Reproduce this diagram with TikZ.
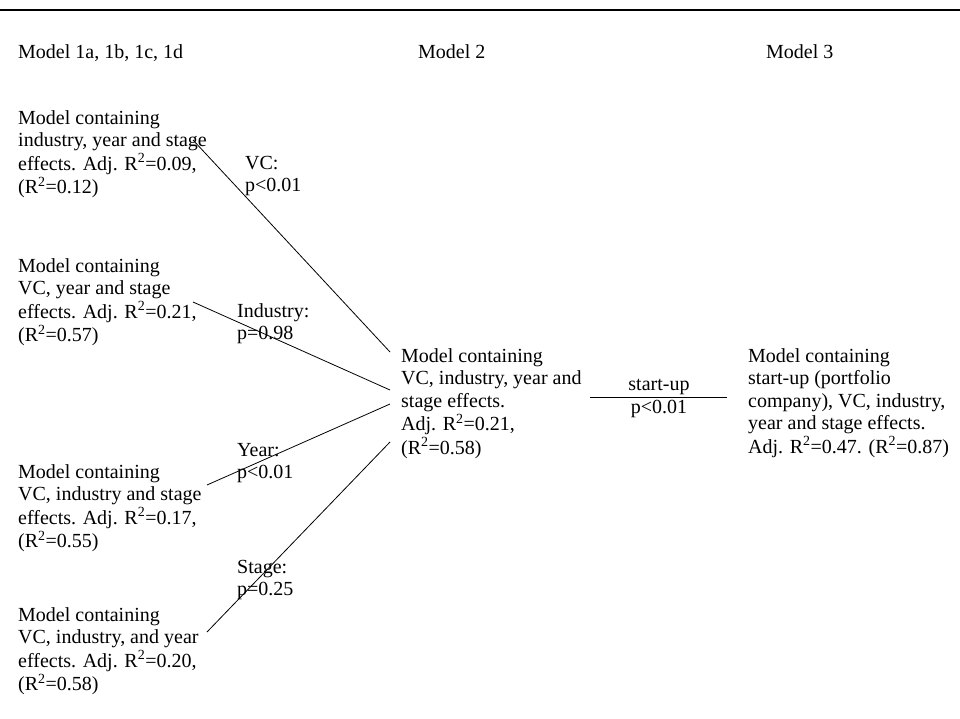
\documentclass[tikz,border=0pt]{standalone}
\usepackage{fontspec}
\setmainfont{Liberation Serif}
\newcommand{\blk}[1]{\begin{tabular}[t]{@{}l@{}}#1\end{tabular}}
\newcommand{\Rsq}{R\textsuperscript{2}}
\begin{document}
\begin{tikzpicture}[x=1pt,y=-1pt,
  txt/.style={anchor=base west,inner sep=0pt,font=\fontsize{20}{22.5}\selectfont},
  ctxt/.style={anchor=base,inner sep=0pt,font=\fontsize{20}{22.5}\selectfont},
  conn/.style={line width=0.8pt,black},
  rule/.style={line width=1.2pt,black}]
\useasboundingbox (0,0) rectangle (960,718);
% top rule
\coordinate (rl) at (0,10);
\coordinate (rr) at (960,10);
\draw[rule] (rl) -- (rr);
% headers
\node[txt] (h1) at (18,58) {Model 1a, 1b, 1c, 1d};
\node[txt] (h2) at (418,58) {Model 2};
\node[txt] (h3) at (766,58) {Model 3};
% left blocks
\node[txt] (m1a) at (18,124) {\blk{Model containing\\ industry, year and stage\\ effects. Adj. \Rsq=0.09,\\ (\Rsq=0.12)}};
\node[txt] (m1b) at (18,272) {\blk{Model containing\\ VC, year and stage\\ effects. Adj. \Rsq=0.21,\\ (\Rsq=0.57)}};
\node[txt] (m1c) at (18,478) {\blk{Model containing\\ VC, industry and stage\\ effects. Adj. \Rsq=0.17,\\ (\Rsq=0.55)}};
\node[txt] (m1d) at (18,621) {\blk{Model containing\\ VC, industry, and year\\ effects. Adj. \Rsq=0.20,\\ (\Rsq=0.58)}};
% center block
\node[txt] (m2) at (401,362) {\blk{Model containing\\ VC, industry, year and\\ stage effects.\\ Adj. \Rsq=0.21,\\ (\Rsq=0.58)}};
% right block
\node[txt] (m3) at (748,362) {\blk{Model containing\\ start-up (portfolio\\ company), VC, industry,\\ year and stage effects.\\ Adj. \Rsq=0.47. (\Rsq=0.87)}};
% edge labels
\node[txt] (lvc) at (245,169) {\blk{VC:\\ p<0.01}};
\node[txt] (lind) at (237,317) {\blk{Industry:\\ p=0.98}};
\node[txt] (lyr) at (237,456) {\blk{Year:\\ p<0.01}};
\node[txt] (lst) at (237,573) {\blk{Stage:\\ p=0.25}};
\node[ctxt] (lsu) at (659,390) {start-up};
\node[ctxt] (lsp) at (659,413) {p<0.01};
% connector end points
\coordinate (s1) at (193,140);
\coordinate (e1) at (390,352);
\coordinate (s2) at (193,302);
\coordinate (e2) at (390,390);
\coordinate (s3) at (207,485);
\coordinate (e3) at (390,404);
\coordinate (s4) at (207,632);
\coordinate (e4) at (390,442);
\coordinate (hs) at (590,397);
\coordinate (he) at (727,397);
\draw[conn] (s1) -- (e1);
\draw[conn] (s2) -- (e2);
\draw[conn] (s3) -- (e3);
\draw[conn] (s4) -- (e4);
\draw[conn] (hs) -- (he);
\end{tikzpicture}
\end{document}
